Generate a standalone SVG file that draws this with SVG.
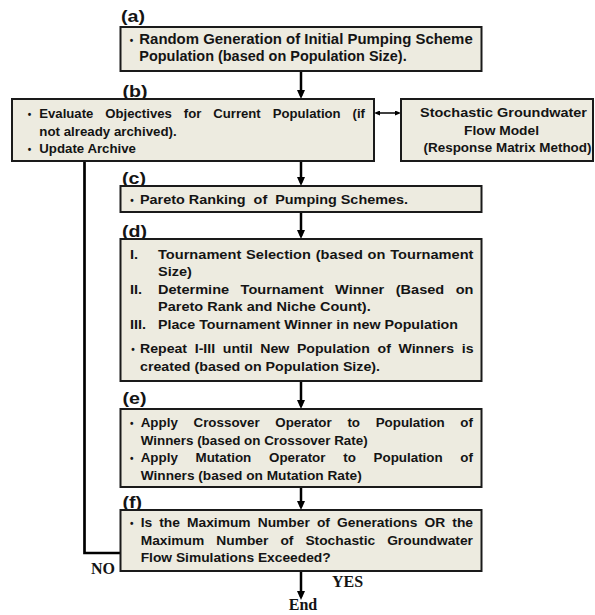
<svg xmlns="http://www.w3.org/2000/svg" width="595" height="615" viewBox="0 0 595 615">
<style>
.bg{fill:#ffffff}
.box{fill:#EDEBE0;stroke:#1a1a1a;stroke-width:2}
.t{font-family:"Liberation Sans",Arial,sans-serif;font-weight:bold;fill:#141414}
.lbl{font-family:"Liberation Sans",Arial,sans-serif;font-weight:bold;fill:#141414;font-size:17px}
.bul{font-family:"Liberation Sans",Arial,sans-serif;font-weight:bold;fill:#141414;font-size:10px;text-anchor:middle}
.s{font-family:"Liberation Serif","Times New Roman",serif;font-weight:bold;fill:#141414;font-size:16px}
.c{stroke:#000;stroke-width:2.5;fill:none}
.thin{stroke:#000;stroke-width:1.5;fill:none}
</style>
<defs>
<marker id="ah" markerUnits="userSpaceOnUse" markerWidth="9" markerHeight="8" viewBox="0 0 9 8" refX="6" refY="4" orient="auto"><path d="M0,0 L9,4 L0,8 z" fill="#000"/></marker>
<marker id="sh" markerUnits="userSpaceOnUse" markerWidth="6" markerHeight="5" viewBox="0 0 6 5" refX="3" refY="2.5" orient="auto-start-reverse"><path d="M0,0 L6,2.5 L0,5 z" fill="#000"/></marker>
</defs>
<rect class="bg" x="0" y="0" width="595" height="615"/>

<g id="connectors">
<line class="c" x1="301" y1="71" x2="301" y2="96" marker-end="url(#ah)"/>
<line class="c" x1="301" y1="161" x2="301" y2="183" marker-end="url(#ah)"/>
<line class="c" x1="301" y1="212" x2="301" y2="236" marker-end="url(#ah)"/>
<line class="c" x1="301" y1="381" x2="301" y2="406" marker-end="url(#ah)"/>
<line class="c" x1="301" y1="487" x2="301" y2="507" marker-end="url(#ah)"/>
<line class="c" x1="301" y1="571" x2="301" y2="597" marker-end="url(#ah)"/>
<polyline class="c" points="120,553 84.5,553 84.5,161" style="stroke-width:2.7"/>
<line class="thin" x1="377" y1="113" x2="398" y2="113" marker-start="url(#sh)" marker-end="url(#sh)"/>
</g>

<g id="node-a">
<text class="lbl" x="121" y="21.5" textLength="24" lengthAdjust="spacingAndGlyphs">(a)</text>
<rect class="box" x="120.5" y="27" width="361" height="44"/>
<text class="bul" x="131.5" y="44">•</text>
<text class="t" font-size="14" x="139.3" y="44" textLength="333.4" lengthAdjust="spacingAndGlyphs">Random Generation of Initial Pumping Scheme</text>
<text class="t" font-size="14" x="139.3" y="61" textLength="267.4" lengthAdjust="spacingAndGlyphs">Population (based on Population Size).</text>
</g>

<g id="node-b">
<text class="lbl" x="122.5" y="97" textLength="25" lengthAdjust="spacingAndGlyphs">(b)</text>
<rect class="box" x="12" y="99" width="362" height="62"/>
<text class="bul" x="29.5" y="118">•</text>
<text class="t" font-size="12.8" word-spacing="8.1" x="39.3" y="118" textLength="325.7" lengthAdjust="spacingAndGlyphs">Evaluate Objectives for Current Population (if</text>
<text class="t" font-size="12.8" x="39.3" y="135.5" textLength="137.4" lengthAdjust="spacingAndGlyphs">not already archived).</text>
<text class="bul" x="29.5" y="153">•</text>
<text class="t" font-size="12.8" x="39.3" y="153" textLength="96.7" lengthAdjust="spacingAndGlyphs">Update Archive</text>
</g>

<g id="node-model">
<rect class="box" x="401" y="99" width="192" height="62"/>
<text class="t" font-size="12.8" x="420" y="117" textLength="167" lengthAdjust="spacingAndGlyphs">Stochastic Groundwater</text>
<text class="t" font-size="12.8" x="464" y="134.5" textLength="75" lengthAdjust="spacingAndGlyphs">Flow Model</text>
<text class="t" font-size="12.8" x="423.5" y="152" textLength="168" lengthAdjust="spacingAndGlyphs">(Response Matrix Method)</text>
</g>

<g id="node-c">
<text class="lbl" x="122" y="184" textLength="24" lengthAdjust="spacingAndGlyphs">(c)</text>
<rect class="box" x="120.5" y="186" width="361" height="26"/>
<text class="bul" x="132" y="204">•</text>
<text class="t" font-size="13.6" x="140" y="204" textLength="268" lengthAdjust="spacingAndGlyphs" xml:space="preserve">Pareto Ranking  of  Pumping Schemes.</text>
</g>

<g id="node-d">
<text class="lbl" x="122" y="237" textLength="25" lengthAdjust="spacingAndGlyphs">(d)</text>
<rect class="box" x="120.5" y="239" width="361" height="142"/>
<text class="t" font-size="13.6" x="130" y="258.5" textLength="8.1" lengthAdjust="spacingAndGlyphs">I.</text>
<text class="t" font-size="13.6" word-spacing="0.7" x="158" y="258.5" textLength="315.5" lengthAdjust="spacingAndGlyphs">Tournament Selection (based on Tournament</text>
<text class="t" font-size="13.6" x="158" y="276" textLength="33.8" lengthAdjust="spacingAndGlyphs">Size)</text>
<text class="t" font-size="13.6" x="130" y="293.5" textLength="12.1" lengthAdjust="spacingAndGlyphs">II.</text>
<text class="t" font-size="13.6" word-spacing="7" x="158" y="293.5" textLength="315.5" lengthAdjust="spacingAndGlyphs">Determine Tournament Winner (Based on</text>
<text class="t" font-size="13.6" x="158" y="311" textLength="212.7" lengthAdjust="spacingAndGlyphs">Pareto Rank and Niche Count).</text>
<text class="t" font-size="13.6" x="130" y="328.5" textLength="16.1" lengthAdjust="spacingAndGlyphs">III.</text>
<text class="t" font-size="13.6" x="158" y="328.5" textLength="300" lengthAdjust="spacingAndGlyphs">Place Tournament Winner in new Population</text>
<text class="bul" x="133" y="353">•</text>
<text class="t" font-size="13.6" word-spacing="3.6" x="140" y="353" textLength="333.5" lengthAdjust="spacingAndGlyphs">Repeat I-III until New Population of Winners is</text>
<text class="t" font-size="13.6" x="140" y="370.5" textLength="240" lengthAdjust="spacingAndGlyphs">created (based on Population Size).</text>
</g>

<g id="node-e">
<text class="lbl" x="122.5" y="404" textLength="24" lengthAdjust="spacingAndGlyphs">(e)</text>
<rect class="box" x="120.5" y="409" width="361" height="78"/>
<text class="bul" x="131.7" y="427">•</text>
<text class="t" font-size="13" word-spacing="11.6" x="140.7" y="427" textLength="332.3" lengthAdjust="spacingAndGlyphs">Apply Crossover Operator to Population of</text>
<text class="t" font-size="13" x="140.7" y="444.5" textLength="227" lengthAdjust="spacingAndGlyphs">Winners (based on Crossover Rate)</text>
<text class="bul" x="131.7" y="462">•</text>
<text class="t" font-size="13" word-spacing="13.6" x="140.7" y="462" textLength="332.3" lengthAdjust="spacingAndGlyphs">Apply Mutation Operator to Population of</text>
<text class="t" font-size="13" x="140.7" y="479.5" textLength="221" lengthAdjust="spacingAndGlyphs">Winners (based on Mutation Rate)</text>
</g>

<g id="node-f">
<text class="lbl" x="122.5" y="508" textLength="19.5" lengthAdjust="spacingAndGlyphs">(f)</text>
<rect class="box" x="120.5" y="510" width="361" height="61"/>
<text class="bul" x="131.7" y="527">•</text>
<text class="t" font-size="13.2" word-spacing="3.1" x="140.7" y="527" textLength="332.3" lengthAdjust="spacingAndGlyphs">Is the Maximum Number of Generations OR the</text>
<text class="t" font-size="13.2" word-spacing="7.8" x="140.7" y="544.5" textLength="332.3" lengthAdjust="spacingAndGlyphs">Maximum Number of Stochastic Groundwater</text>
<text class="t" font-size="13.2" x="140.7" y="562" textLength="190" lengthAdjust="spacingAndGlyphs">Flow Simulations Exceeded?</text>
</g>

<g id="node-no"><text class="s" x="91" y="574">NO</text></g>
<g id="node-yes"><text class="s" x="332" y="587">YES</text></g>
<g id="node-end"><text class="s" x="303" y="610" text-anchor="middle">End</text></g>
</svg>
